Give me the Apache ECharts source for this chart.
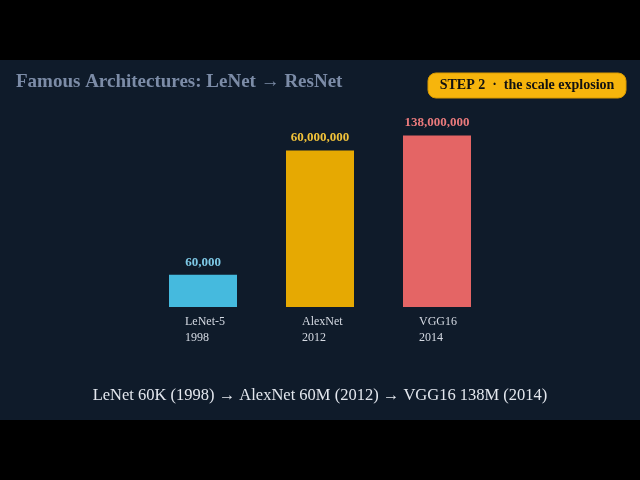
<!DOCTYPE html>
<html>
<head>
<meta charset="utf-8">
<script src="https://cdn.jsdelivr.net/npm/echarts@6/dist/echarts.min.js"></script>
<style>html,body{margin:0;padding:0;background:#000;}#c{width:640px;height:480px;}</style>
</head>
<body>
<div id="c"></div>
<script>
var names = ['LeNet-5', 'AlexNet', 'VGG16'];
var years = ['1998', '2012', '2014'];
var params = [60000, 60000000, 138000000];
var barColors = ['#45bade', '#e6a902', '#e46565'];
var labelColors = ['#7ec9e6', '#f2c33a', '#ea7a7c'];
var titleText = 'Famous Architectures: LeNet \u2192 ResNet';
var badgeText = 'STEP 2  \u00b7  the scale explosion';
var footerText = 'LeNet 60K (1998) \u2192 AlexNet 60M (2012) \u2192 VGG16 138M (2014)';

var serif = '"Liberation Serif", "DejaVu Serif", serif';
var chart = echarts.init(document.getElementById('c'));
function fmt(v) { return v.toString().replace(/\B(?=(\d{3})+(?!\d))/g, ','); }

chart.setOption({
  backgroundColor: '#000000',
  animation: false,
  graphic: [
    { type: 'rect', z: -10, shape: { x: 0, y: 60, width: 640, height: 360 }, style: { fill: '#0f1b2a' } },
    { type: 'text', x: 16, y: 82, style: { text: titleText, fill: '#7c8ca7', font: 'bold 19px ' + serif, verticalAlign: 'middle' } },
    { type: 'rect', shape: { x: 428, y: 73, width: 198, height: 25, r: 8 }, style: { fill: '#f7b50c', stroke: '#d99a00', lineWidth: 1 } },
    { type: 'text', x: 527, y: 85.5, style: { text: badgeText, fill: '#111111', font: 'bold 14px ' + serif, align: 'center', verticalAlign: 'middle' } },
    { type: 'text', x: 320, y: 396, style: { text: footerText, fill: '#e3e7ee', font: '16.5px ' + serif, align: 'center', verticalAlign: 'middle' } }
  ],
  grid: { left: 144.5, right: 144.5, top: 100, bottom: 173, containLabel: false },
  xAxis: {
    type: 'category',
    data: names,
    axisLine: { show: false },
    axisTick: { show: false },
    axisLabel: {
      margin: 7,
      formatter: function (v, i) { return '{a|' + v + '}\n{a|' + years[i] + '}'; },
      rich: { a: { width: 36, align: 'left', color: '#d5dae3', fontFamily: serif, fontSize: 12, lineHeight: 16 } }
    }
  },
  yAxis: {
    type: 'log',
    logBase: 10,
    min: 10000,
    max: 1000000000,
    show: false,
    splitLine: { show: false }
  },
  series: [{
    type: 'bar',
    barWidth: 68,
    data: params.map(function (v, i) {
      return {
        value: v,
        itemStyle: { color: barColors[i] },
        label: { color: labelColors[i] }
      };
    }),
    label: {
      show: true,
      position: 'top',
      distance: 6,
      fontFamily: serif,
      fontWeight: 'bold',
      fontSize: 13,
      formatter: function (p) { return fmt(p.value); }
    }
  }]
});
</script>
</body>
</html>
